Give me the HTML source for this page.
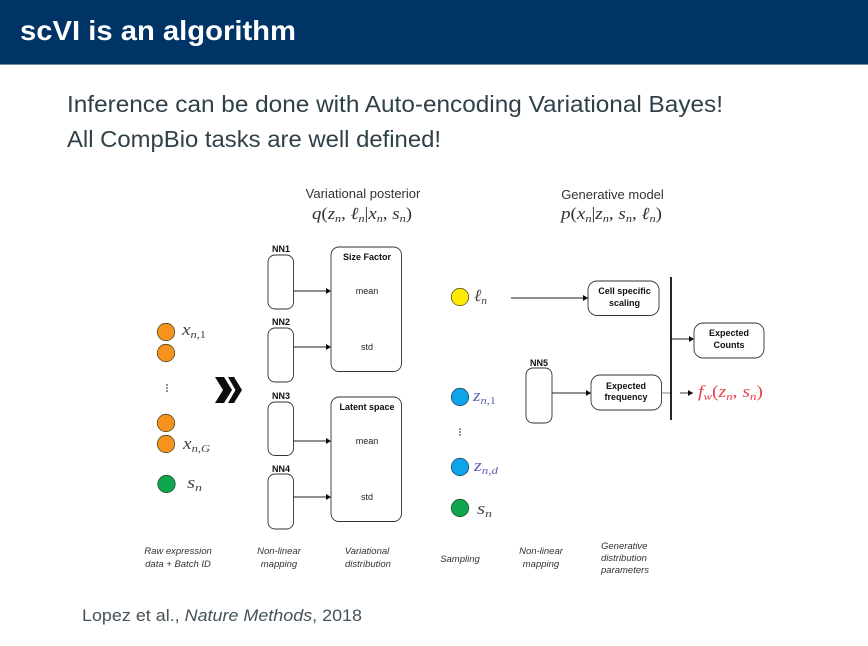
<!DOCTYPE html>
<html lang="en">
<head>
<meta charset="utf-8">
<title>scVI is an algorithm</title>
<style>
html,body{margin:0;padding:0;background:#fff;width:868px;height:646px;overflow:hidden}
svg{display:block}
.sans{font-family:"Liberation Sans",sans-serif}
.m{font-family:"Liberation Serif",serif;font-style:italic}
.r{font-style:normal}
.lbl{font-family:"Liberation Sans",sans-serif;font-size:9px;fill:#222;text-anchor:middle}
.b{font-weight:bold;fill:#111}
.i{font-style:italic;font-size:9.5px;fill:#333}
</style>
</head>
<body>
<svg width="868" height="646" viewBox="0 0 868 646" xmlns="http://www.w3.org/2000/svg">
<defs>
<marker id="a" markerWidth="6" markerHeight="6" refX="5" refY="3" orient="auto" markerUnits="userSpaceOnUse"><path d="M0 0 L5 3 L0 6 Z" fill="#111"/></marker>
<filter id="soft" filterUnits="userSpaceOnUse" x="0" y="0" width="868" height="646"><feGaussianBlur stdDeviation="0.35"/></filter>
</defs>
<rect width="868" height="64" fill="#003366"/>
<rect y="64" width="868" height="1" fill="#6f8aa6"/>
<text class="sans" x="20" y="40" font-size="28" font-weight="bold" fill="#fff" textLength="276" lengthAdjust="spacingAndGlyphs">scVI is an algorithm</text>
<text class="sans" x="67" y="112" font-size="23.5" fill="#2f4048" textLength="656" lengthAdjust="spacingAndGlyphs">Inference can be done with Auto-encoding Variational Bayes!</text>
<text class="sans" x="67" y="147" font-size="23.5" fill="#2f4048" textLength="374" lengthAdjust="spacingAndGlyphs">All CompBio tasks are well defined!</text>
<text class="sans" x="82" y="621" font-size="17" fill="#45525a" textLength="280" lengthAdjust="spacingAndGlyphs">Lopez et al., <tspan font-style="italic">Nature Methods</tspan>, 2018</text>

<g filter="url(#soft)">
<text class="sans" x="363" y="198" font-size="13" fill="#333" text-anchor="middle">Variational posterior</text>
<text class="m" x="312" y="219" font-size="17" fill="#333" textLength="100" lengthAdjust="spacingAndGlyphs">q<tspan class="r">(</tspan>z<tspan font-size="11" dy="3">n</tspan><tspan dy="-3" class="r">, </tspan>ℓ<tspan font-size="11" dy="3">n</tspan><tspan dy="-3" class="r">|</tspan>x<tspan font-size="11" dy="3">n</tspan><tspan dy="-3" class="r">, </tspan>s<tspan font-size="11" dy="3">n</tspan><tspan dy="-3" class="r">)</tspan></text>
<text class="sans" x="612.5" y="199" font-size="13" fill="#333" text-anchor="middle">Generative model</text>
<text class="m" x="561" y="219" font-size="17" fill="#333" textLength="101" lengthAdjust="spacingAndGlyphs">p<tspan class="r">(</tspan>x<tspan font-size="11" dy="3">n</tspan><tspan dy="-3" class="r">|</tspan>z<tspan font-size="11" dy="3">n</tspan><tspan dy="-3" class="r">, </tspan>s<tspan font-size="11" dy="3">n</tspan><tspan dy="-3" class="r">, </tspan>ℓ<tspan font-size="11" dy="3">n</tspan><tspan dy="-3" class="r">)</tspan></text>

<g fill="#f7931e" stroke="#5a4320" stroke-width="0.8">
<circle cx="166" cy="332" r="8.7"/><circle cx="166" cy="353" r="8.7"/><circle cx="166" cy="423" r="8.7"/><circle cx="166" cy="444" r="8.7"/>
</g>
<circle cx="166.5" cy="484" r="8.7" fill="#0aa64f" stroke="#24502f" stroke-width="0.8"/>
<g fill="#444"><circle cx="167" cy="385" r="0.9"/><circle cx="167" cy="388" r="0.9"/><circle cx="167" cy="391" r="0.9"/></g>
<text class="m" x="182" y="335" font-size="17" fill="#444" textLength="24" lengthAdjust="spacingAndGlyphs">x<tspan font-size="11" dy="3">n,</tspan><tspan font-size="11" class="r">1</tspan></text>
<text class="m" x="183" y="449" font-size="17" fill="#444" textLength="27" lengthAdjust="spacingAndGlyphs">x<tspan font-size="11" dy="3">n,G</tspan></text>
<text class="m" x="187" y="488" font-size="17" fill="#444" textLength="15" lengthAdjust="spacingAndGlyphs">s<tspan font-size="11" dy="3">n</tspan></text>
<path d="M215 377 H224 L232 390 L224 403 H215 L223 390 Z" fill="#0a0a0a"/>
<path d="M228 377 H234 L242 390 L234 403 H228 L235.5 390 Z" fill="#0a0a0a"/>

<g fill="#fff" stroke="#333" stroke-width="0.9">
<rect x="268" y="255" width="25.5" height="54" rx="7"/>
<rect x="268" y="328" width="25.5" height="54" rx="7"/>
<rect x="268" y="402" width="25.5" height="53.5" rx="7"/>
<rect x="268" y="474" width="25.5" height="55" rx="7"/>
<rect x="331" y="247" width="70.5" height="124.5" rx="8"/>
<rect x="331" y="397" width="70.5" height="124.5" rx="8"/>
<rect x="588" y="281" width="71" height="34.5" rx="9"/>
<rect x="694" y="323" width="70" height="35" rx="9"/>
<rect x="526" y="368" width="26" height="55" rx="7"/>
<rect x="591" y="375" width="70.5" height="35" rx="9"/>
</g>
<g stroke="#222" stroke-width="0.9" marker-end="url(#a)">
<line x1="293.5" y1="291" x2="331" y2="291"/>
<line x1="293.5" y1="347" x2="331" y2="347"/>
<line x1="293.5" y1="441" x2="331" y2="441"/>
<line x1="293.5" y1="497" x2="331" y2="497"/>
<line x1="511" y1="298" x2="588" y2="298"/>
<line x1="552" y1="393" x2="591" y2="393"/>
<line x1="671" y1="339" x2="694" y2="339"/>
<line x1="680" y1="393" x2="693" y2="393"/>
</g>
<line x1="661.5" y1="393" x2="671" y2="393" stroke="#777" stroke-width="0.9"/>
<line x1="671" y1="277" x2="671" y2="420" stroke="#111" stroke-width="1.8"/>

<text class="lbl b" x="281" y="252">NN1</text>
<text class="lbl b" x="281" y="325">NN2</text>
<text class="lbl b" x="281" y="399">NN3</text>
<text class="lbl b" x="281" y="472">NN4</text>
<text class="lbl b" x="539" y="366">NN5</text>
<text class="lbl b" x="367" y="260">Size Factor</text>
<text class="lbl b" x="367" y="410">Latent space</text>
<text class="lbl" x="367" y="294">mean</text>
<text class="lbl" x="367" y="350">std</text>
<text class="lbl" x="367" y="444">mean</text>
<text class="lbl" x="367" y="500">std</text>
<text class="lbl b" x="624.5" y="294">Cell specific</text>
<text class="lbl b" x="624.5" y="306">scaling</text>
<text class="lbl b" x="729" y="336">Expected</text>
<text class="lbl b" x="729" y="348">Counts</text>
<text class="lbl b" x="626" y="389">Expected</text>
<text class="lbl b" x="626" y="400">frequency</text>

<circle cx="460" cy="297" r="8.7" fill="#ffeb00" stroke="#5a5520" stroke-width="0.8"/>
<circle cx="460" cy="397" r="8.7" fill="#0ea5ea" stroke="#1f4a66" stroke-width="0.8"/>
<circle cx="460" cy="467" r="8.7" fill="#0ea5ea" stroke="#1f4a66" stroke-width="0.8"/>
<circle cx="460" cy="508" r="8.7" fill="#0aa64f" stroke="#24502f" stroke-width="0.8"/>
<g fill="#444"><circle cx="460" cy="429" r="0.9"/><circle cx="460" cy="432" r="0.9"/><circle cx="460" cy="435" r="0.9"/></g>
<text class="m" x="474" y="301" font-size="17" fill="#444" textLength="13" lengthAdjust="spacingAndGlyphs">ℓ<tspan font-size="11" dy="3">n</tspan></text>
<text class="m" x="473" y="401" font-size="17" fill="#5b62b8" textLength="23" lengthAdjust="spacingAndGlyphs">z<tspan font-size="11" dy="3">n,</tspan><tspan font-size="11" class="r">1</tspan></text>
<text class="m" x="474" y="471" font-size="17" fill="#5b62b8" textLength="24" lengthAdjust="spacingAndGlyphs">z<tspan font-size="11" dy="3">n,d</tspan></text>
<text class="m" x="477" y="514" font-size="17" fill="#444" textLength="15" lengthAdjust="spacingAndGlyphs">s<tspan font-size="11" dy="3">n</tspan></text>
<text class="m" x="698" y="397" font-size="17" fill="#e8404a" textLength="65" lengthAdjust="spacingAndGlyphs">f<tspan font-size="11" dy="3">w</tspan><tspan dy="-3" class="r">(</tspan>z<tspan font-size="11" dy="3">n</tspan><tspan dy="-3" class="r">, </tspan>s<tspan font-size="11" dy="3">n</tspan><tspan dy="-3" class="r">)</tspan></text>

<text class="lbl i" x="178" y="554">Raw expression</text>
<text class="lbl i" x="178" y="567">data + Batch ID</text>
<text class="lbl i" x="279" y="554">Non-linear</text>
<text class="lbl i" x="279" y="567">mapping</text>
<text class="lbl i" x="367" y="554">Variational</text>
<text class="lbl i" x="368" y="567">distribution</text>
<text class="lbl i" x="460" y="562">Sampling</text>
<text class="lbl i" x="541" y="554">Non-linear</text>
<text class="lbl i" x="541" y="567">mapping</text>
<text class="lbl i" x="601" y="549" style="text-anchor:start">Generative</text>
<text class="lbl i" x="601" y="561" style="text-anchor:start">distribution</text>
<text class="lbl i" x="601" y="573" style="text-anchor:start">parameters</text>
</g>
</svg>
</body>
</html>
